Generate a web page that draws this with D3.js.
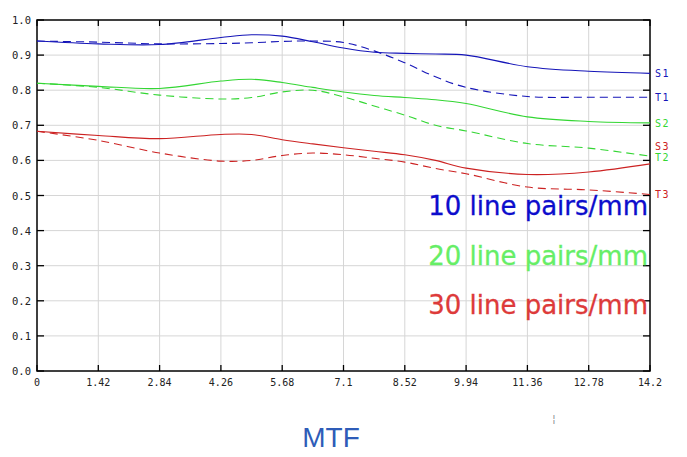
<!DOCTYPE html>
<html>
<head>
<meta charset="utf-8">
<script src="https://cdn.jsdelivr.net/npm/d3@7"></script>
<style>
  body { margin: 0; background: #fff; }
</style>
</head>
<body>
<div id="chart"></div>
<script>
// values

var xs = [0, 1.42, 2.84, 4.26, 4.97, 5.68, 6.39, 7.1, 7.81, 8.52, 9.23, 9.94, 11.36, 12.78, 14.2];

var s1 = [.940, .932, .930, .950, .958, .954, .938, .920, .908, .905, .903, .900, .867, .854, .848];
var t1 = [.940, .937, .932, .933, .935, .939, .940, .936, .912, .878, .838, .808, .782, .780, .780];
var s2 = [.820, .811, .805, .826, .831, .822, .808, .795, .785, .779, .773, .762, .724, .711, .707];
var t2 = [.820, .808, .786, .775, .779, .795, .800, .781, .755, .729, .700, .684, .648, .635, .612];
var s3 = [.683, .671, .662, .674, .674, .659, .647, .636, .626, .616, .600, .578, .560, .567, .590];
var t3 = [.683, .657, .621, .598, .600, .614, .621, .616, .606, .595, .577, .562, .524, .516, .503];

var xTicks = [0, 1.42, 2.84, 4.26, 5.68, 7.1, 8.52, 9.94, 11.36, 12.78, 14.2];
var xTickLabels = ["0", "1.42", "2.84", "4.26", "5.68", "7.1", "8.52", "9.94", "11.36", "12.78", "14.2"];
var yTicks = [0, .1, .2, .3, .4, .5, .6, .7, .8, .9, 1];

var seriesNames = ["S1", "T1", "S2", "T2", "S3", "T3"];
var labelY = {S1: .848, T1: .780, S2: .707, S3: .642, T2: .610, T3: .503};
var legendText = ["10 line pairs/mm", "20 line pairs/mm", "30 line pairs/mm"];

var W = 687, H = 457;
var margin = {top: 20, right: 37, bottom: 86, left: 37};

var svg = d3.select("#chart").append("svg")
    .attr("width", W)
    .attr("height", H);

var x = d3.scaleLinear().domain([0, 14.2]).range([margin.left, W - margin.right]);
var y = d3.scaleLinear().domain([0, 1]).range([H - margin.bottom, margin.top]);

// grid
svg.append("g").selectAll("line.gx")
    .data(xTicks.slice(1, -1))
    .join("line")
    .attr("x1", d => x(d)).attr("x2", d => x(d))
    .attr("y1", y(0)).attr("y2", y(1))
    .attr("stroke", "#d6d6d6").attr("stroke-width", 1);

svg.append("g").selectAll("line.gy")
    .data(yTicks.slice(1, -1))
    .join("line")
    .attr("x1", x(0)).attr("x2", x(14.2))
    .attr("y1", d => y(d)).attr("y2", d => y(d))
    .attr("stroke", "#d6d6d6").attr("stroke-width", 1);

// frame + inner ticks
svg.append("rect")
    .attr("x", x(0)).attr("y", y(1))
    .attr("width", x(14.2) - x(0)).attr("height", y(0) - y(1))
    .attr("fill", "none").attr("stroke", "#000").attr("stroke-width", 1.5);

var ticks = svg.append("g").attr("stroke", "#000").attr("stroke-width", 1.3);
xTicks.forEach(function(d) {
    ticks.append("line").attr("x1", x(d)).attr("x2", x(d)).attr("y1", y(0)).attr("y2", y(0) - 6);
    ticks.append("line").attr("x1", x(d)).attr("x2", x(d)).attr("y1", y(1)).attr("y2", y(1) + 6);
});
yTicks.forEach(function(d) {
    ticks.append("line").attr("x1", x(0)).attr("x2", x(0) + 7).attr("y1", y(d)).attr("y2", y(d));
    ticks.append("line").attr("x1", x(14.2)).attr("x2", x(14.2) - 7).attr("y1", y(d)).attr("y2", y(d));
});

// tick labels
svg.append("g").selectAll("text")
    .data(yTicks)
    .join("text")
    .attr("x", 31).attr("y", d => y(d) + 4)
    .attr("text-anchor", "end")
    .attr("font-family", "DejaVu Sans Mono")
    .attr("font-size", 10.5)
    .attr("fill", "#222")
    .text(d => d.toFixed(1));

svg.append("g").selectAll("text")
    .data(xTicks)
    .join("text")
    .attr("x", d => x(d)).attr("y", y(0) + 15)
    .attr("text-anchor", "middle")
    .attr("font-family", "DejaVu Sans Mono")
    .attr("font-size", 10)
    .attr("fill", "#222")
    .text((d, i) => xTickLabels[i]);

// curves
var series = [
    {name: "S1", vals: s1, color: "#1515b8", dash: null},
    {name: "T1", vals: t1, color: "#1515b8", dash: "8,5"},
    {name: "S2", vals: s2, color: "#33d633", dash: null},
    {name: "T2", vals: t2, color: "#33d633", dash: "8,5"},
    {name: "S3", vals: s3, color: "#cc2222", dash: null},
    {name: "T3", vals: t3, color: "#cc2222", dash: "8,5"}
];

var line = d3.line()
    .x(d => x(d[0]))
    .y(d => y(d[1]))
    .curve(d3.curveCatmullRom.alpha(0.5));

series.forEach(function(s) {
    svg.append("path")
        .datum(xs.map((v, i) => [v, s.vals[i]]))
        .attr("d", line)
        .attr("fill", "none")
        .attr("stroke", s.color)
        .attr("stroke-width", 1.1)
        .attr("stroke-dasharray", s.dash);
});

// series labels on the right
series.forEach(function(s) {
    svg.append("text")
        .attr("x", x(14.2) + 5)
        .attr("y", y(labelY[s.name]) + 4)
        .attr("font-family", "DejaVu Sans Mono")
        .attr("font-size", 10)
        .attr("letter-spacing", 1.5)
        .attr("fill", s.color)
        .text(s.name);
});

// legend
var legendColors = ["#0d0dcc", "#66ee66", "#dd3a3a"];
var legendBase = [215, 265, 314];
legendText.forEach(function(t, i) {
    svg.append("text")
        .attr("x", 648).attr("y", legendBase[i])
        .attr("text-anchor", "end")
        .attr("font-family", "DejaVu Sans, Verdana, sans-serif")
        .attr("font-size", 26)
        .attr("fill", legendColors[i])
        .attr("stroke", legendColors[i])
        .attr("stroke-width", 0.3)
        .text(t);
});

// caption
svg.append("text")
    .attr("x", 331).attr("y", 447)
    .attr("text-anchor", "middle")
    .attr("font-family", "Liberation Sans, Arial, sans-serif")
    .attr("font-size", 28)
    .attr("fill", "#2e5cb8")
    .text("MTF");

svg.append("text")
    .attr("x", 554).attr("y", 422)
    .attr("text-anchor", "middle")
    .attr("font-family", "DejaVu Sans")
    .attr("font-size", 10)
    .attr("fill", "#888")
    .text("¦");
</script>
</body>
</html>
